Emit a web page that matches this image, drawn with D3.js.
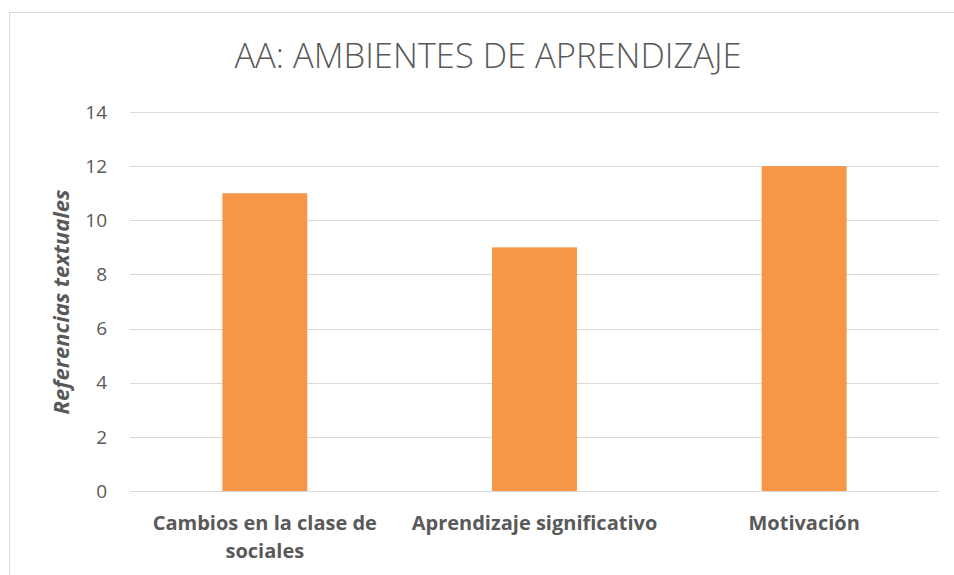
<!DOCTYPE html>
<html>
<head>
<meta charset="utf-8">
<script src="https://cdn.jsdelivr.net/npm/d3@7"></script>
<style>
  body { margin: 0; background: #fff; }
  text { font-family: "Open Sans", sans-serif; fill: #595959; }
</style>
</head>
<body>
<div id="chart"></div>
<script>
const categories = ["Cambios en la clase de sociales", "Aprendizaje significativo", "Motivación"];
const categoryLines = [["Cambios en la clase de", "sociales"], ["Aprendizaje significativo"], ["Motivación"]];
const values = [11, 9, 12];
const yTicks = [0, 2, 4, 6, 8, 10, 12, 14];

const width = 954, height = 575;
const svg = d3.select("#chart").append("svg")
  .attr("width", width)
  .attr("height", height);

// chart frame (runs off the right edge like the source)
svg.append("rect")
  .attr("x", 9.5).attr("y", 12.5)
  .attr("width", 960).attr("height", 580)
  .attr("fill", "#fff")
  .attr("stroke", "#d9d9d9");

const x = d3.scaleBand()
  .domain(categories)
  .range([130, 939])
  .paddingInner(0.685)
  .paddingOuter(0.3425);

const y = d3.scaleLinear()
  .domain([0, 14])
  .range([491, 112]);

// gridlines
svg.selectAll(".grid")
  .data(yTicks)
  .enter()
  .append("line")
  .attr("x1", 130).attr("x2", 939)
  .attr("y1", d => Math.round(y(d)) + 0.5)
  .attr("y2", d => Math.round(y(d)) + 0.5)
  .attr("stroke", "#d9d9d9")
  .attr("stroke-width", 1);

// tick labels
svg.selectAll(".ytick")
  .data(yTicks)
  .enter()
  .append("text")
  .attr("x", 107)
  .attr("y", d => y(d))
  .attr("dy", "0.35em")
  .style("text-anchor", "end")
  .style("font-size", "19px")
  .text(d => d);

// bars
svg.selectAll(".bar")
  .data(values)
  .enter()
  .append("rect")
  .attr("x", (d, i) => x(categories[i]))
  .attr("width", x.bandwidth())
  .attr("y", d => y(d))
  .attr("height", d => y(0) - y(d))
  .attr("fill", "#f79646");

// category labels
const cat = svg.selectAll(".cat")
  .data(categories)
  .enter()
  .append("text")
  .attr("x", d => x(d) + x.bandwidth() / 2)
  .attr("y", 530)
  .style("text-anchor", "middle")
  .style("font-size", "20px")
  .style("font-weight", "bold");

cat.selectAll("tspan")
  .data((d, i) => categoryLines[i])
  .enter()
  .append("tspan")
  .attr("x", function() { return this.parentNode.getAttribute("x"); })
  .attr("dy", (d, i) => i === 0 ? 0 : 28)
  .text(d => d);

// axis title
svg.append("text")
  .attr("transform", "translate(69, 302) rotate(-90)")
  .style("text-anchor", "middle")
  .style("font-size", "22px")
  .style("font-weight", "bold")
  .style("font-style", "italic")
  .text("Referencias textuales");

// chart title
svg.append("text")
  .attr("x", 488)
  .attr("y", 68)
  .style("text-anchor", "middle")
  .style("font-size", "34.5px")
  .style("font-weight", 300)
  .text("AA: AMBIENTES DE APRENDIZAJE");
</script>
</body>
</html>
